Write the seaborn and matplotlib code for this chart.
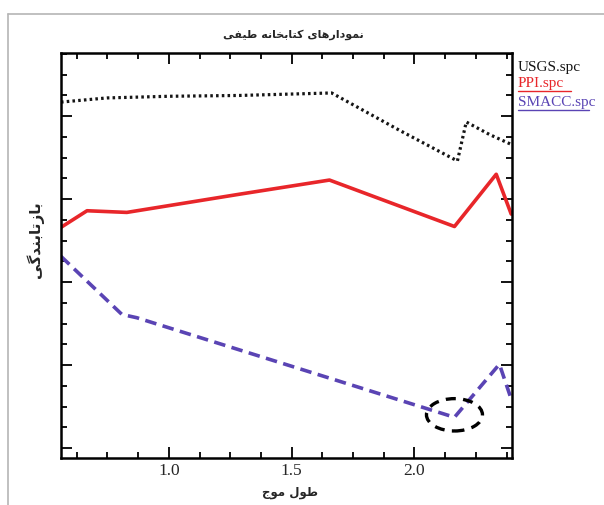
import matplotlib
matplotlib.use("Agg")
import matplotlib.pyplot as plt
from matplotlib.patches import Ellipse
from matplotlib.lines import Line2D
from matplotlib.ticker import MultipleLocator, NullFormatter
import seaborn as sns
import numpy as np
import pandas as pd

# ---------------- data ----------------
usgs_x = [0.561, 0.748, 1.000, 1.289, 1.663, 1.939, 2.175, 2.211, 2.305, 2.394]
usgs_y = [0.517, 0.522, 0.524, 0.525, 0.528, 0.483, 0.446, 0.493, 0.478, 0.466]

ppi_x = [0.561, 0.667, 0.829, 1.289, 1.654, 2.163, 2.333, 2.394]
ppi_y = [0.366, 0.386, 0.384, 0.406, 0.423, 0.367, 0.430, 0.382]

smacc_x = [0.561, 0.809, 0.870, 2.163, 2.346, 2.394]
smacc_y = [0.331, 0.261, 0.257, 0.137, 0.201, 0.159]

series_names = ["USGS.spc", "PPI.spc", "SMACC.spc"]
x_ticks = [1.0, 1.5, 2.0]
x_tick_labels = ["1.0", "1.5", "2.0"]

title_text = "نمودارهای کتابخانه طیفی"
xlabel_text = "طول موج"
ylabel_text = "بازتابندگی"

# ---------------- simple Arabic-script shaping for matplotlib ----------------
FORMS = {
    "ا": ("\uFE8D", "\uFE8E", None, None),
    "آ": ("\uFE81", "\uFE82", None, None),
    "ب": ("\uFE8F", "\uFE90", "\uFE91", "\uFE92"),
    "پ": ("\uFB56", "\uFB57", "\uFB58", "\uFB59"),
    "ت": ("\uFE95", "\uFE96", "\uFE97", "\uFE98"),
    "ج": ("\uFE9D", "\uFE9E", "\uFE9F", "\uFEA0"),
    "خ": ("\uFEA5", "\uFEA6", "\uFEA7", "\uFEA8"),
    "د": ("\uFEA9", "\uFEAA", None, None),
    "ر": ("\uFEAD", "\uFEAE", None, None),
    "ز": ("\uFEAF", "\uFEB0", None, None),
    "ط": ("\uFEC1", "\uFEC2", "\uFEC3", "\uFEC4"),
    "ع": ("\uFEC9", "\uFECA", "\uFECB", "\uFECC"),
    "ف": ("\uFED1", "\uFED2", "\uFED3", "\uFED4"),
    "ک": ("\uFB8E", "\uFB8F", "\uFB90", "\uFB91"),
    "گ": ("\uFB92", "\uFB93", "\uFB94", "\uFB95"),
    "ل": ("\uFEDD", "\uFEDE", "\uFEDF", "\uFEE0"),
    "م": ("\uFEE1", "\uFEE2", "\uFEE3", "\uFEE4"),
    "ن": ("\uFEE5", "\uFEE6", "\uFEE7", "\uFEE8"),
    "ه": ("\uFEE9", "\uFEEA", "\uFEEB", "\uFEEC"),
    "و": ("\uFEED", "\uFEEE", None, None),
    "ی": ("\uFBFC", "\uFBFD", "\uFBFE", "\uFBFF"),
}


def shape(text):
    out = []
    n = len(text)
    for i, ch in enumerate(text):
        f = FORMS.get(ch)
        if f is None:
            out.append(ch)
            continue
        prev = text[i - 1] if i > 0 else None
        nxt = text[i + 1] if i < n - 1 else None
        joins_prev = prev in FORMS and FORMS[prev][2] is not None
        joins_next = f[2] is not None and nxt in FORMS
        if joins_prev and joins_next:
            out.append(f[3])
        elif joins_prev:
            out.append(f[1])
        elif joins_next:
            out.append(f[2])
        else:
            out.append(f[0])
    return "".join(out)[::-1]


# ---------------- build table ----------------
frames = []
for name, xs, ys in zip(series_names, [usgs_x, ppi_x, smacc_x], [usgs_y, ppi_y, smacc_y]):
    frames.append(pd.DataFrame({"wl": xs, "refl": ys, "lib": name}))
df = pd.concat(frames, ignore_index=True)

palette = {"USGS.spc": "#151515", "PPI.spc": "#e8262a", "SMACC.spc": "#5a44b4"}
dashes = {"USGS.spc": (0.8, 1.0), "PPI.spc": "", "SMACC.spc": (3.2, 1.8)}
widths = {"USGS.spc": 2.3, "PPI.spc": 2.6, "SMACC.spc": 2.6}

sns.set_style("ticks")
plt.rcParams["font.family"] = ["Liberation Serif", "DejaVu Serif"]

fig = plt.figure(figsize=(6.04, 5.06), dpi=100)
fig.patch.set_facecolor("white")
ax = fig.add_axes([0.101, 0.093, 0.747, 0.800])

for name in series_names:
    sub = df[df["lib"] == name]
    sns.lineplot(data=sub, x="wl", y="refl", ax=ax, sort=False, estimator=None,
                 color=palette[name], lw=widths[name], legend=False)
    line = ax.lines[-1]
    if dashes[name]:
        line.set_dashes(dashes[name])
        line.set_dash_capstyle("butt")

# highlight ellipse around the SMACC minimum
imin = int(np.argmin(smacc_y))
ell = Ellipse((smacc_x[imin], smacc_y[imin] + 0.003), width=0.228, height=0.039,
              fill=False, edgecolor="black", lw=2.4, linestyle=(0, (3.0, 2.2)),
              clip_on=False, zorder=5)
ax.add_patch(ell)

ax.set_xlim(0.561, 2.398)
ax.set_ylim(0.088, 0.576)
ax.set_xticks(x_ticks)
ax.set_xticklabels(x_tick_labels, fontsize=12.5)
ax.xaxis.set_minor_locator(MultipleLocator(0.125))
ax.yaxis.set_major_locator(MultipleLocator(0.1))
ax.yaxis.set_minor_locator(MultipleLocator(0.025))
ax.yaxis.set_major_formatter(NullFormatter())
ax.tick_params(which="both", direction="in", top=True, right=True, color="black", width=1.3)
ax.tick_params(which="major", length=8, pad=3)
ax.tick_params(which="minor", length=4.5)
for sp in ax.spines.values():
    sp.set_linewidth(1.8)
    sp.set_color("black")
ax.set_xlabel("")
ax.set_ylabel("")

# titles/labels (Persian)
fig.text(0.485, 0.931, shape(title_text), ha="center", va="center",
         fontsize=8, fontweight="bold", family=["DejaVu Sans"])
fig.text(0.48, 0.026, shape(xlabel_text), ha="center", va="center",
         fontsize=8.5, fontweight="bold", family=["DejaVu Sans"])
fig.text(0.058, 0.526, shape(ylabel_text), ha="center", va="center", rotation=90,
         fontsize=11, fontweight="bold", family=["DejaVu Sans"])

# legend texts outside right
leg_y = [0.866, 0.835, 0.797]
for name, yy in zip(series_names, leg_y):
    fig.text(0.857, yy, name, ha="left", va="center", fontsize=11,
             color=palette[name], family=["Liberation Serif"])
for name, yy, x1 in zip(series_names[1:], leg_y[1:], [0.945, 0.975]):
    fig.add_artist(Line2D([0.857, x1], [yy - 0.017, yy - 0.017], color=palette[name], lw=1.0))

# page border lines
fig.add_artist(Line2D([0.013, 0.013], [0.0, 0.97], color="#b5b5b5", lw=1.2))
fig.add_artist(Line2D([0.013, 1.0], [0.97, 0.97], color="#b5b5b5", lw=1.2))

fig.savefig("out.png", dpi=100, facecolor="white")
